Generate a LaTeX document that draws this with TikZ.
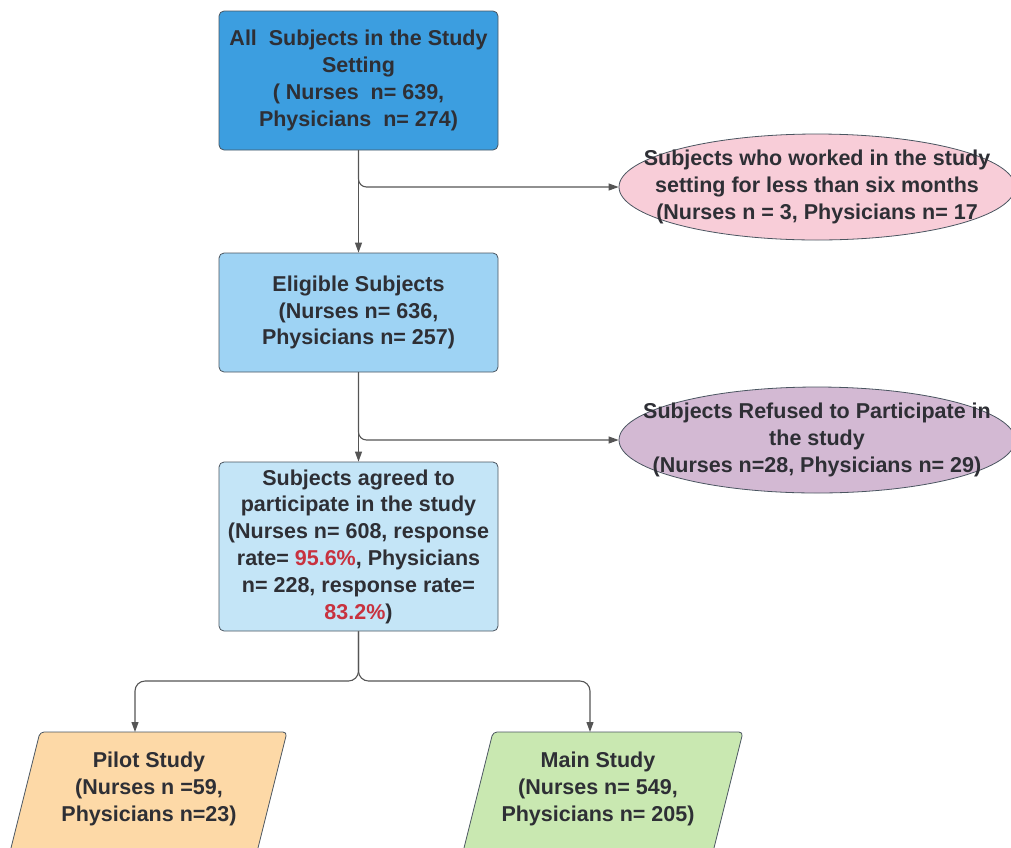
\documentclass[tikz,border=0pt]{standalone}
\usepackage{fontspec}
\setmainfont{Liberation Sans}
\usetikzlibrary{shapes.geometric,arrows.meta}
\definecolor{txtc}{HTML}{2E2F35}
\definecolor{redc}{HTML}{C8323F}
\definecolor{bordc}{HTML}{4A5560}
\definecolor{linec}{HTML}{555555}
\definecolor{blueA}{HTML}{3C9EE0}
\definecolor{blueB}{HTML}{9ED3F4}
\definecolor{blueC}{HTML}{C4E5F7}
\definecolor{pinkc}{HTML}{F8CDD8}
\definecolor{purpc}{HTML}{D3B9D3}
\definecolor{orangec}{HTML}{FDD9A7}
\definecolor{greenc}{HTML}{C9E8B1}
\begin{document}
\begin{tikzpicture}[x=1pt,y=-1pt,
  txt/.style={font=\fontsize{21.5}{26.8}\selectfont\bfseries, text=txtc, align=center, inner sep=0pt},
  box/.style={txt, draw=bordc, line width=0.8pt, rounded corners=5pt, minimum width=279pt},
  oval/.style={ellipse, draw=bordc, line width=0.8pt, minimum width=396pt, minimum height=106pt, inner sep=0pt},
  parashape/.style={draw=bordc, line width=0.8pt, rounded corners=4pt},
  conn/.style={draw=linec, line width=1.1pt},
  arr/.style={conn, -{Triangle[length=10pt,width=7pt]}}
]
\useasboundingbox (0,0) rectangle (1011,847);
\clip (0,0) rectangle (1011,847);

\node[box, fill=blueA, minimum height=139pt] (b1) at (358.5,80.5)
  {All\ \ Subjects in the Study\\Setting\\( Nurses\ \ n= 639,\\Physicians\ \ n= 274)};
\node[box, fill=blueB, minimum height=119pt] (b2) at (358.5,312.5)
  {Eligible Subjects\\(Nurses n= 636,\\Physicians n= 257)};
\node[box, fill=blueC, minimum height=169pt] (b3) at (358.5,546.5)
  {Subjects agreed to\\participate in the study\\(Nurses n= 608, response\\rate= \textcolor{redc}{95.6\%}, Physicians\\n= 228, response rate=\\\textcolor{redc}{83.2\%})};

\node[oval, fill=pinkc] (e1) at (817,187) {};
\node[txt] (e1t) at (e1.center) {Subjects who worked in the study\\setting for less than six months\\(Nurses n = 3, Physicians n= 17};
\node[oval, fill=purpc] (e2) at (817,440) {};
\node[txt] (e2t) at (e2.center) {Subjects Refused to Participate in\\the study\\(Nurses n=28, Physicians n= 29)};

\draw[parashape, fill=orangec] (40,732) -- (287,732) -- (257,852) -- (10,852) -- cycle;
\draw[parashape, fill=greenc] (493,732) -- (743,732) -- (713,852) -- (463,852) -- cycle;
\node[txt] (pilot) at (149,789) {Pilot Study\\(Nurses n =59,\\Physicians n=23)};
\node[txt] (main) at (598,789) {Main Study\\(Nurses n= 549,\\Physicians n= 205)};
\coordinate (pilottop) at (135,732);
\coordinate (maintop) at (590,732);

\draw[arr] (b1.south) -- (b2.north);
\draw[arr, rounded corners=8pt] (b1.south) |- (e1.west);
\draw[arr] (b2.south) -- (b3.north);
\draw[arr, rounded corners=8pt] (b2.south) |- (e2.west);

\coordinate (j) at (358.5,681);
\draw[arr, rounded corners=10pt] (b3.south) -- (j) -| (pilottop);
\draw[arr, rounded corners=10pt] (b3.south) -- (j) -| (maintop);
\end{tikzpicture}
\end{document}
